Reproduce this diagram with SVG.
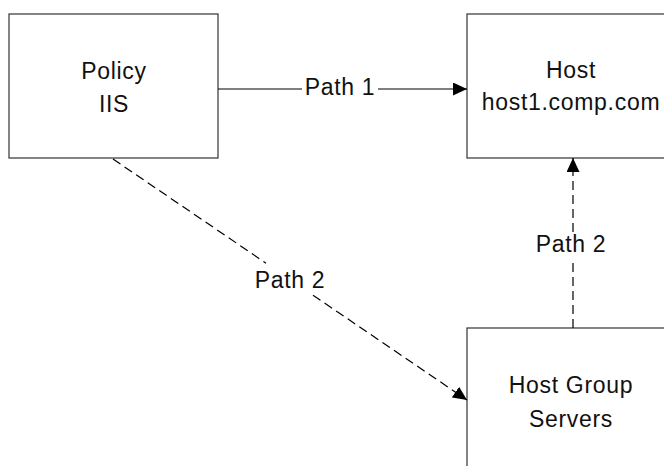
<svg xmlns="http://www.w3.org/2000/svg" width="664" height="466" viewBox="0 0 664 466">
<style>
.box{fill:#fff;stroke:#333;stroke-width:1.2}
.lbl{font-family:"Liberation Sans",Arial,sans-serif;font-size:23px;letter-spacing:0.7px;fill:#111;text-anchor:middle}
.ln{fill:none;stroke:#000;stroke-width:1.2}
.dash{stroke-dasharray:9 5}
</style>
<defs>
<marker id="arr" markerUnits="userSpaceOnUse" markerWidth="15" markerHeight="13" refX="14" refY="6.5" orient="auto" viewBox="0 0 15 13">
<path d="M0,0 L14,6.5 L0,13 z" fill="#000" stroke="none"/>
</marker>
</defs>
<g id="policy">
<rect class="box" x="9" y="14" width="209" height="144"/>
<text class="lbl" x="114" y="79">Policy</text>
<text class="lbl" x="114" y="112">IIS</text>
</g>
<g id="host">
<rect class="box" x="467" y="14" width="209" height="144"/>
<text class="lbl" x="571" y="78">Host</text>
<text class="lbl" x="571" y="110">host1.comp.com</text>
</g>
<g id="hostgroup">
<rect class="box" x="467" y="328" width="209" height="150"/>
<text class="lbl" x="571" y="393">Host Group</text>
<text class="lbl" x="571" y="427">Servers</text>
</g>
<g id="connectors">
<line class="ln" x1="218" y1="89" x2="302" y2="89"/>
<line class="ln" x1="378" y1="89" x2="467" y2="89" marker-end="url(#arr)"/>
<text class="lbl" x="340" y="95">Path 1</text>
<line class="ln dash" x1="113" y1="159" x2="266" y2="263.2"/>
<line class="ln dash" x1="313" y1="295.2" x2="467" y2="400" marker-end="url(#arr)"/>
<text class="lbl" x="290" y="288">Path 2</text>
<line class="ln dash" x1="573" y1="328" x2="573" y2="258"/>
<line class="ln dash" x1="573" y1="232" x2="573" y2="158" marker-end="url(#arr)"/>
<text class="lbl" x="571" y="252">Path 2</text>
</g>
</svg>
